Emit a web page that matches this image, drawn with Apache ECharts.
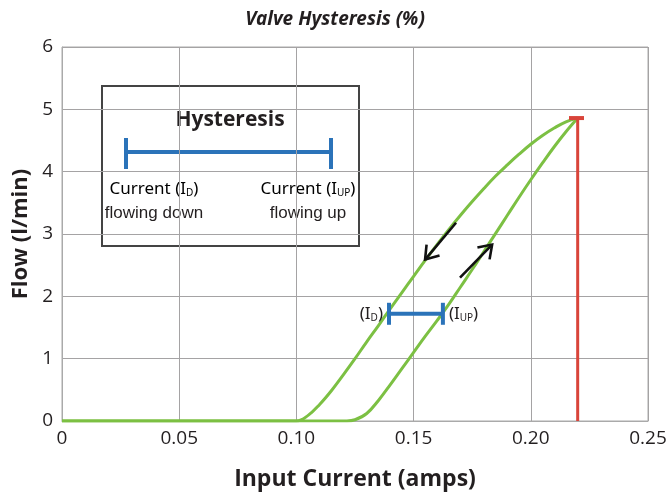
<!DOCTYPE html>
<html>
<head>
<meta charset="utf-8">
<script src="https://cdn.jsdelivr.net/npm/echarts@6/dist/echarts.min.js"></script>
<style>
  html, body { margin: 0; padding: 0; background: #fff; }
  #chart { width: 670px; height: 492px; }
</style>
</head>
<body>
<div id="chart"></div>
<script>
// flow while the current goes down (left branch) and up (right branch)
const downCurve = [
  [0, 0], [0.10, 0], [0.105, 0.09], [0.11, 0.27], [0.115, 0.49], [0.12, 0.74],
  [0.125, 1.0], [0.13, 1.27], [0.135, 1.53], [0.14, 1.8], [0.145, 2.06],
  [0.15, 2.32], [0.155, 2.58], [0.16, 2.83], [0.165, 3.07], [0.17, 3.3],
  [0.175, 3.52], [0.18, 3.73], [0.185, 3.93], [0.19, 4.11], [0.195, 4.28],
  [0.20, 4.44], [0.205, 4.58], [0.21, 4.7], [0.215, 4.8], [0.22, 4.86]
];
const upCurve = [
  [0, 0], [0.1215, 0], [0.125, 0.02], [0.13, 0.12], [0.135, 0.33], [0.14, 0.58],
  [0.145, 0.84], [0.15, 1.1], [0.155, 1.36], [0.16, 1.61], [0.165, 1.87],
  [0.17, 2.15], [0.175, 2.43], [0.18, 2.72], [0.185, 3.01], [0.19, 3.3],
  [0.195, 3.59], [0.20, 3.87], [0.205, 4.14], [0.21, 4.4], [0.215, 4.64],
  [0.22, 4.86]
];
const peakCurrent = 0.22;
const peakFlow = 4.86;
const peakCap = [0.2163, 0.2227];
const hystBand = [[0.1395, 1.72], [0.1625, 1.72]];
// arrows: [x1, y1, x2, y2], head at the second point
const arrows = [
  [0.1681, 3.18, 0.1549, 2.59],
  [0.1698, 2.30, 0.1835, 2.83]
];
const xTickLabels = ['0', '0.05', '0.10', '0.15', '0.20', '0.25'];
const yTickLabels = ['0', '1', '2', '3', '4', '5', '6'];

const green = '#7cc043';
const red = '#d9443a';
const blue = '#2b73b9';
const ink = '#231f20';
const font = '"Open Sans", "Noto Sans", sans-serif';
const narrow = '"Liberation Sans Narrow", "Noto Sans", sans-serif';

const chart = echarts.init(document.getElementById('chart'), null, { renderer: 'canvas' });

const subRich = {
  n: { fontFamily: narrow, fontSize: 17, color: ink },
  s: { fontFamily: narrow, fontSize: 10, color: ink, verticalAlign: 'bottom', padding: [8, 0, 0, 0] }
};

const option = {
  animation: false,
  title: {
    text: '{b|Valve Hysteresis} {n|(%)}',
    left: 'center',
    top: 5,
    textStyle: {
      rich: {
        b: { fontFamily: narrow, fontSize: 19, fontWeight: 'bold', fontStyle: 'italic', color: ink },
        n: { fontFamily: narrow, fontSize: 19, fontStyle: 'italic', color: ink }
      }
    }
  },
  grid: {
    left: 62, right: 22, top: 47, bottom: 71,
    outerBoundsMode: 'none',
    show: true, borderColor: '#aaa', borderWidth: 1
  },
  xAxis: {
    type: 'value', min: 0, max: 0.25, interval: 0.05,
    name: 'Input Current (amps)', nameLocation: 'middle', nameGap: 47,
    nameTextStyle: { fontFamily: font, fontSize: 23, fontWeight: 'bold', color: ink },
    axisLine: { lineStyle: { color: '#aaa' } },
    axisTick: { show: false },
    axisLabel: {
      margin: 8, fontFamily: font, fontSize: 19, color: ink,
      formatter: (v, i) => xTickLabels[i]
    },
    splitLine: { lineStyle: { color: '#a5a3a4', width: 1 } }
  },
  yAxis: {
    type: 'value', min: 0, max: 6, interval: 1,
    name: 'Flow (l/min)', nameLocation: 'middle', nameGap: 30,
    nameTextStyle: { fontFamily: font, fontSize: 22, fontWeight: 'bold', color: ink },
    axisLine: { show: true, lineStyle: { color: '#aaa' } },
    axisTick: { show: false },
    axisLabel: {
      margin: 9, fontFamily: font, fontSize: 19, color: ink,
      formatter: (v, i) => yTickLabels[i]
    },
    splitLine: { lineStyle: { color: '#a5a3a4', width: 1 } }
  },
  series: [
    {
      name: 'down', type: 'line', data: downCurve, smooth: 0.4, symbol: 'none',
      lineStyle: { color: green, width: 3 }, z: 3
    },
    {
      name: 'up', type: 'line', data: upCurve, smooth: 0.4, symbol: 'none',
      lineStyle: { color: green, width: 3 }, z: 3
    },
    {
      name: 'peak', type: 'line', symbol: 'none',
      data: [[peakCurrent, 0], [peakCurrent, peakFlow]],
      lineStyle: { color: red, width: 3 }, z: 4
    },
    {
      name: 'peakCap', type: 'line', symbol: 'none',
      data: [[peakCap[0], peakFlow], [peakCap[1], peakFlow]],
      lineStyle: { color: red, width: 4 }, z: 4
    },
    {
      name: 'band', type: 'line', symbol: 'rect', symbolSize: [4, 22], showSymbol: true,
      itemStyle: { color: blue },
      lineStyle: { color: blue, width: 4 }, z: 5,
      data: [
        {
          value: hystBand[0],
          label: {
            show: true, position: 'left', distance: 4,
            formatter: '{n|(I}{s|D}{n|)}', rich: subRich
          }
        },
        {
          value: hystBand[1],
          label: {
            show: true, position: 'right', distance: 4,
            formatter: '{n|(I}{s|UP}{n|)}', rich: subRich
          }
        }
      ]
    },
    {
      name: 'arrows', type: 'custom', z: 6,
      data: arrows,
      renderItem: (params, api) => {
        const p1 = api.coord([api.value(0), api.value(1)]);
        const p2 = api.coord([api.value(2), api.value(3)]);
        const ang = Math.atan2(p2[1] - p1[1], p2[0] - p1[0]);
        const len = 15, spread = 0.6;
        const h1 = [p2[0] - len * Math.cos(ang - spread), p2[1] - len * Math.sin(ang - spread)];
        const h2 = [p2[0] - len * Math.cos(ang + spread), p2[1] - len * Math.sin(ang + spread)];
        const style = { stroke: '#111', lineWidth: 2.6, fill: null };
        return {
          type: 'group',
          children: [
            { type: 'line', shape: { x1: p1[0], y1: p1[1], x2: p2[0], y2: p2[1] }, style },
            { type: 'polyline', shape: { points: [h1, p2, h2] }, style }
          ]
        };
      }
    }
  ],
  graphic: [
    {
      type: 'group', left: 101, top: 85,
      children: [
        {
          type: 'rect', shape: { x: 0, y: 0, width: 257, height: 160 },
          style: { fill: '#fff', stroke: '#444', lineWidth: 2 }
        },
        {
          type: 'text', x: 128, y: 34,
          style: {
            text: 'Hysteresis', align: 'center', verticalAlign: 'middle',
            font: 'bold 21px "Open Sans", sans-serif', fill: ink
          }
        },
        {
          type: 'line', shape: { x1: 24, y1: 66, x2: 229, y2: 66 },
          style: { stroke: blue, lineWidth: 4 }
        },
        {
          type: 'line', shape: { x1: 24, y1: 52, x2: 24, y2: 83 },
          style: { stroke: blue, lineWidth: 4 }
        },
        {
          type: 'line', shape: { x1: 229, y1: 52, x2: 229, y2: 83 },
          style: { stroke: blue, lineWidth: 4 }
        },
        {
          type: 'text', x: 52, y: 103,
          style: {
            text: '{n|Current (I}{s|D}{n|)}', align: 'center', verticalAlign: 'middle',
            rich: subRich
          }
        },
        {
          type: 'text', x: 52, y: 127,
          style: {
            text: 'flowing down', align: 'center', verticalAlign: 'middle',
            font: '17px "Liberation Sans Narrow", sans-serif', fill: ink
          }
        },
        {
          type: 'text', x: 206, y: 103,
          style: {
            text: '{n|Current (I}{s|UP}{n|)}', align: 'center', verticalAlign: 'middle',
            rich: subRich
          }
        },
        {
          type: 'text', x: 206, y: 127,
          style: {
            text: 'flowing up', align: 'center', verticalAlign: 'middle',
            font: '17px "Liberation Sans Narrow", sans-serif', fill: ink
          }
        }
      ]
    }
  ]
};

chart.setOption(option);
</script>
</body>
</html>
